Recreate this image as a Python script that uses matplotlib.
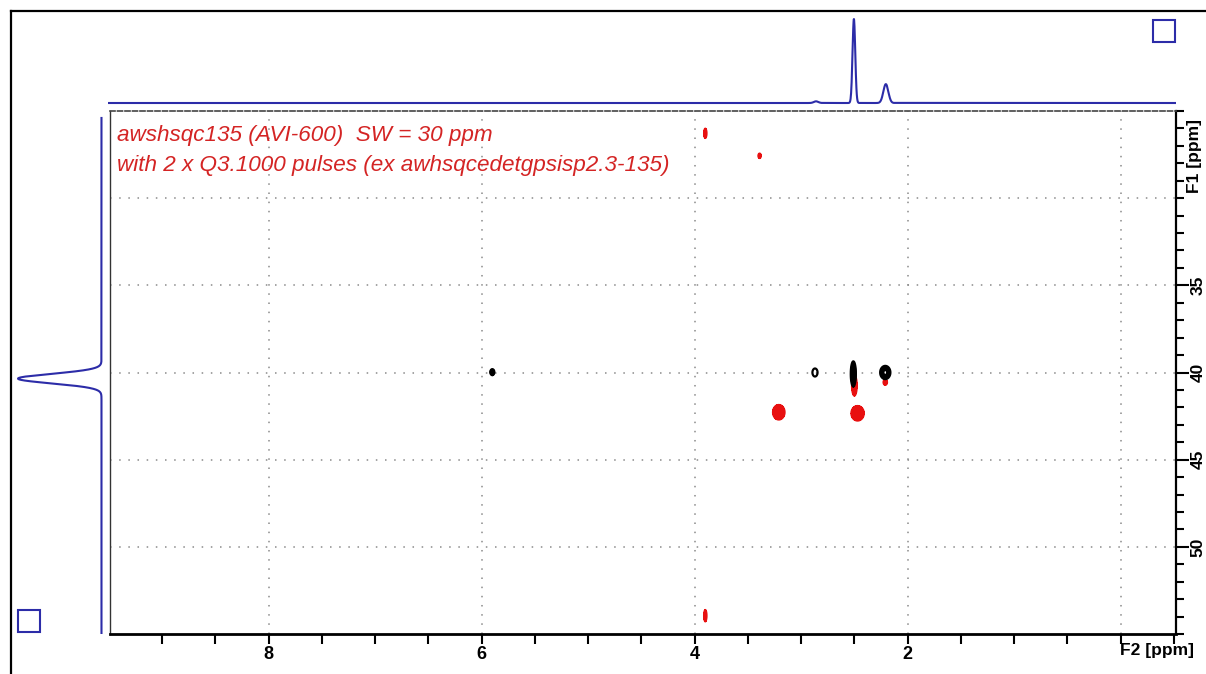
import numpy as np
import matplotlib
matplotlib.use("Agg")
import matplotlib.pyplot as plt
from matplotlib.lines import Line2D
from matplotlib.patches import Rectangle
from matplotlib.ticker import MultipleLocator, FixedLocator

# ---------------- data ----------------
f2_range = [9.49, -0.52]          # ppm, left -> right
f1_range = [55.0, 25.0]           # ppm, bottom -> top

x_major = [8, 6, 4, 2]
x_labels = ["8", "6", "4", "2"]
y_major = [35, 40, 45, 50]
y_labels = ["35", "40", "45", "50"]
grid_x = [8, 6, 4, 2, 0]
grid_y = [30, 35, 40, 45, 50]

# 1H projection (top): shift, relative height, FWHM
h_shift = [2.86, 2.505, 2.205]
h_height = [0.02, 1.0, 0.225]
h_fwhm = [0.05, 0.03, 0.055]

# 13C projection (left)
c_shift = [40.35]
c_height = [1.0]
c_fwhm = [0.64]

# 2D cross peaks, positive phase (black)
pos_f2 = [5.90, 2.87, 2.51, 2.21]
pos_f1 = [39.98, 40.0, 40.08, 40.0]
pos_amp = [1.0, 0.35, 1.0, 1.0]
pos_hw2 = [0.019, 0.024, 0.024, 0.048]
pos_hw1 = [0.17, 0.23, 0.72, 0.38]

# 2D cross peaks, negative phase (red)
neg_f2 = [2.50, 2.21, 3.21, 2.47, 3.90, 3.39, 3.90]
neg_f1 = [40.75, 40.56, 42.28, 42.34, 26.28, 27.57, 53.95]
neg_amp = [1.0, 1.0, 1.0, 1.0, 1.0, 1.0, 1.0]
neg_hw2 = [0.026, 0.02, 0.058, 0.062, 0.015, 0.015, 0.015]
neg_hw1 = [0.6, 0.17, 0.44, 0.44, 0.29, 0.15, 0.35]

title1 = "awshsqc135 (AVI-600)  SW = 30 ppm"
title2 = "with 2 x Q3.1000 pulses (ex awhsqcedetgpsisp2.3-135)"

# ---------------- style ----------------
W, H = 1206, 674
BLUE = "#2c2ca8"
RED_TXT = "#d42424"
RED = "#e81010"
LEVEL = 0.2

plt.rcParams["font.family"] = ["Liberation Sans", "DejaVu Sans"]

fig = plt.figure(figsize=(W / 100, H / 100), dpi=100)
fig.patch.set_facecolor("white")


def fx(px):
    return px / W


def fy(py):
    return 1 - py / H


ML, MR, MT, MB = 110, 1176, 111, 634
ax = fig.add_axes([fx(ML), fy(MB), fx(MR - ML), (MB - MT) / H])
ax.set_xlim(*f2_range)
ax.set_ylim(*f1_range)

# grid lines
for g in grid_x:
    ax.axvline(g, color="#8a8a8a", lw=1.1, ls=(0, (1, 5)), zorder=0)
for g in grid_y:
    ax.axhline(g, color="#8a8a8a", lw=1.1, ls=(0, (1, 5)), zorder=0)

# 2D contour data
xg = np.arange(-0.55, 9.55, 0.003)
yg = np.arange(25.0, 55.0, 0.025)
X, Y = np.meshgrid(xg, yg)


def peak_map(f2s, f1s, amps, hw2s, hw1s):
    Z = np.zeros_like(X)
    for x0, y0, a, w2, w1 in zip(f2s, f1s, amps, hw2s, hw1s):
        k = np.sqrt(2 * np.log(a / LEVEL)) if a > LEVEL else 1.0
        s2, s1 = w2 / k, w1 / k
        m = (np.abs(xg - x0) < 6 * s2)
        n = (np.abs(yg - y0) < 6 * s1)
        sub = np.ix_(n, m)
        Z[sub] += a * np.exp(-0.5 * ((X[sub] - x0) / s2) ** 2 - 0.5 * ((Y[sub] - y0) / s1) ** 2)
    return Z


Zn = peak_map(neg_f2, neg_f1, neg_amp, neg_hw2, neg_hw1)
Zp = peak_map(pos_f2, pos_f1, pos_amp, pos_hw2, pos_hw1)

ax.contourf(X, Y, Zn, levels=[LEVEL, 100], colors=[RED], zorder=2)
ax.contour(X, Y, Zn, levels=[LEVEL], colors=[RED], linewidths=1.0, zorder=2)
ax.contour(X, Y, Zp, levels=[LEVEL, 0.35, 0.5, 0.65, 0.8], colors=["black"], linewidths=1.6, zorder=3)

# spines & ticks
ax.spines["left"].set_color("#333333")
ax.spines["left"].set_linewidth(1.0)
ax.spines["top"].set_color("#444444")
ax.spines["top"].set_linewidth(1.2)
ax.spines["top"].set_linestyle((0, (3, 1.5)))
ax.spines["bottom"].set_color("black")
ax.spines["bottom"].set_linewidth(2.0)
ax.spines["right"].set_color("black")
ax.spines["right"].set_linewidth(1.6)

ax.xaxis.set_major_locator(FixedLocator(x_major))
ax.set_xticklabels(x_labels)
ax.xaxis.set_minor_locator(MultipleLocator(0.5))
ax.yaxis.tick_right()
ax.yaxis.set_major_locator(FixedLocator(y_major))
ax.set_yticklabels(y_labels, rotation=90, va="center")
ax.yaxis.set_minor_locator(MultipleLocator(1))

ax.tick_params(axis="x", which="both", direction="out", length=7, width=1.5, colors="black",
               pad=1.5, labelsize=13)
ax.tick_params(axis="y", which="major", direction="out", length=9, width=1.5, pad=1.5, labelsize=12.5)
ax.tick_params(axis="y", which="minor", direction="out", length=5.5, width=1.5)
for t in ax.get_xticklabels() + ax.get_yticklabels():
    t.set_fontweight("bold")

ax.text((1157 - ML) / (MR - ML), -(650 - MB) / (MB - MT), "F2 [ppm]", transform=ax.transAxes,
        ha="center", va="center", fontsize=12.5, fontweight="bold")
ax.text(1.0 + (1194 - MR) / (MR - ML), 27.6, "F1 [ppm]",
        transform=ax.get_yaxis_transform(), rotation=90, ha="center", va="center",
        fontsize=12.5, fontweight="bold")

ax.text((117 - ML) / (MR - ML), 1 - (141 - MT) / (MB - MT), title1, transform=ax.transAxes,
        color=RED_TXT, fontsize=16.2, style="italic", ha="left", va="baseline")
ax.text((117 - ML) / (MR - ML), 1 - (171 - MT) / (MB - MT), title2, transform=ax.transAxes,
        color=RED_TXT, fontsize=16.2, style="italic", ha="left", va="baseline")

# top 1H projection
axt = fig.add_axes([fx(108), fy(108), fx(MR - 108), 96 / H])
xs = np.linspace(f2_range[1], 9.51, 6000)
proj_h = np.zeros_like(xs)
for c, h, w in zip(h_shift, h_height, h_fwhm):
    proj_h += h * np.exp(-4 * np.log(2) * ((xs - c) / w) ** 2)
axt.plot(xs, proj_h, color=BLUE, lw=1.5)
axt.set_xlim(9.51, f2_range[1])
axt.set_ylim(-0.0595, 1.0833)
axt.axis("off")

# left 13C projection
axl = fig.add_axes([fx(12), fy(MB), fx(98), (MB - MT) / H])
ys = np.linspace(25.4, 55.0, 4000)
proj_c = np.zeros_like(ys)
for c, h, w in zip(c_shift, c_height, c_fwhm):
    proj_c += h * np.exp(-4 * np.log(2) * ((ys - c) / w) ** 2)
axl.plot(proj_c, ys, color=BLUE, lw=1.5)
axl.set_xlim(1.072, -0.102)
axl.set_ylim(*f1_range)
axl.axis("off")

# frame and boxes
fig.add_artist(Line2D([fx(11), fx(11)], [0, fy(11)], color="black", lw=1.6, transform=fig.transFigure))
fig.add_artist(Line2D([fx(11), 1], [fy(11), fy(11)], color="black", lw=1.6, transform=fig.transFigure))
fig.add_artist(Rectangle((fx(1153), fy(42)), fx(22), 22 / H, transform=fig.transFigure,
                         fill=False, ec=BLUE, lw=1.5))
fig.add_artist(Rectangle((fx(18), fy(632)), fx(22), 22 / H, transform=fig.transFigure,
                         fill=False, ec=BLUE, lw=1.5))

fig.savefig("out.png", dpi=100)
